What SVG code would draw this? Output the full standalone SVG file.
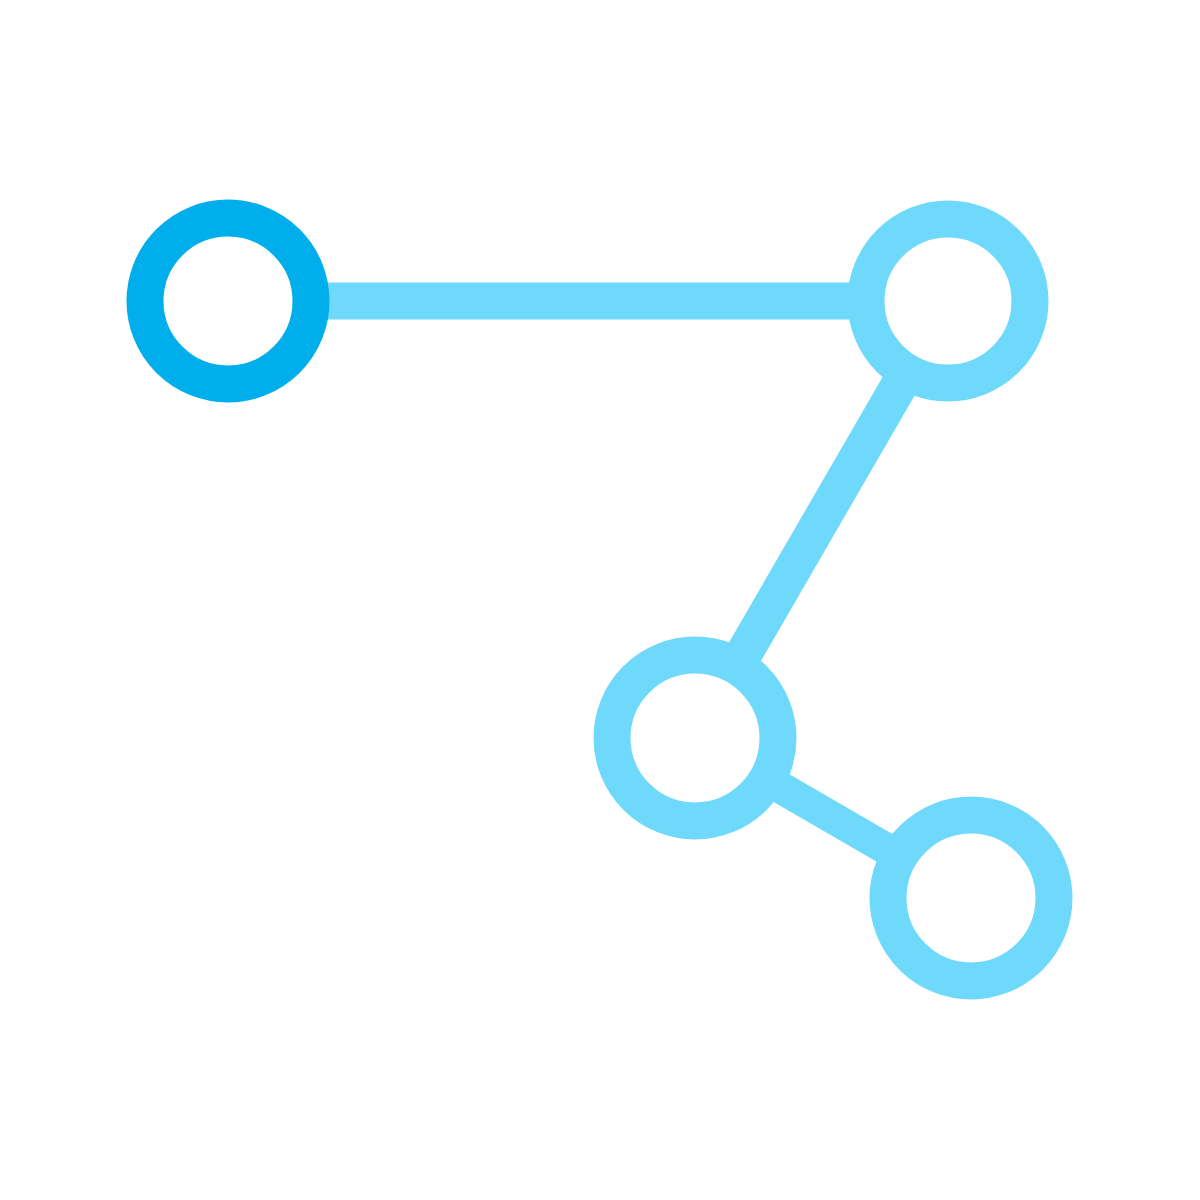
<svg xmlns="http://www.w3.org/2000/svg" width="1200" height="1200" viewBox="0 0 1200 1200">
<style>
.ring{fill:#ffffff;stroke:#6fd9fc;stroke-width:37}
.ring.main{stroke:#00aeeb}
.edge{stroke:#6fd9fc;stroke-width:37;fill:none}
</style>
<rect width="1200" height="1200" fill="#ffffff"/>
<g id="connectors">
<line class="edge" x1="228" y1="301" x2="948" y2="301"/>
<line class="edge" x1="948" y1="301" x2="695" y2="738"/>
<line class="edge" x1="695" y1="738" x2="971" y2="898" style="stroke-width:32"/>
</g>
<g id="node1"><circle class="ring main" cx="228" cy="301" r="83"/></g>
<g id="node2"><circle class="ring" cx="948" cy="301" r="82"/></g>
<g id="node3"><circle class="ring" cx="695" cy="738" r="83"/></g>
<g id="node4"><circle class="ring" cx="971" cy="898" r="83"/></g>
</svg>
